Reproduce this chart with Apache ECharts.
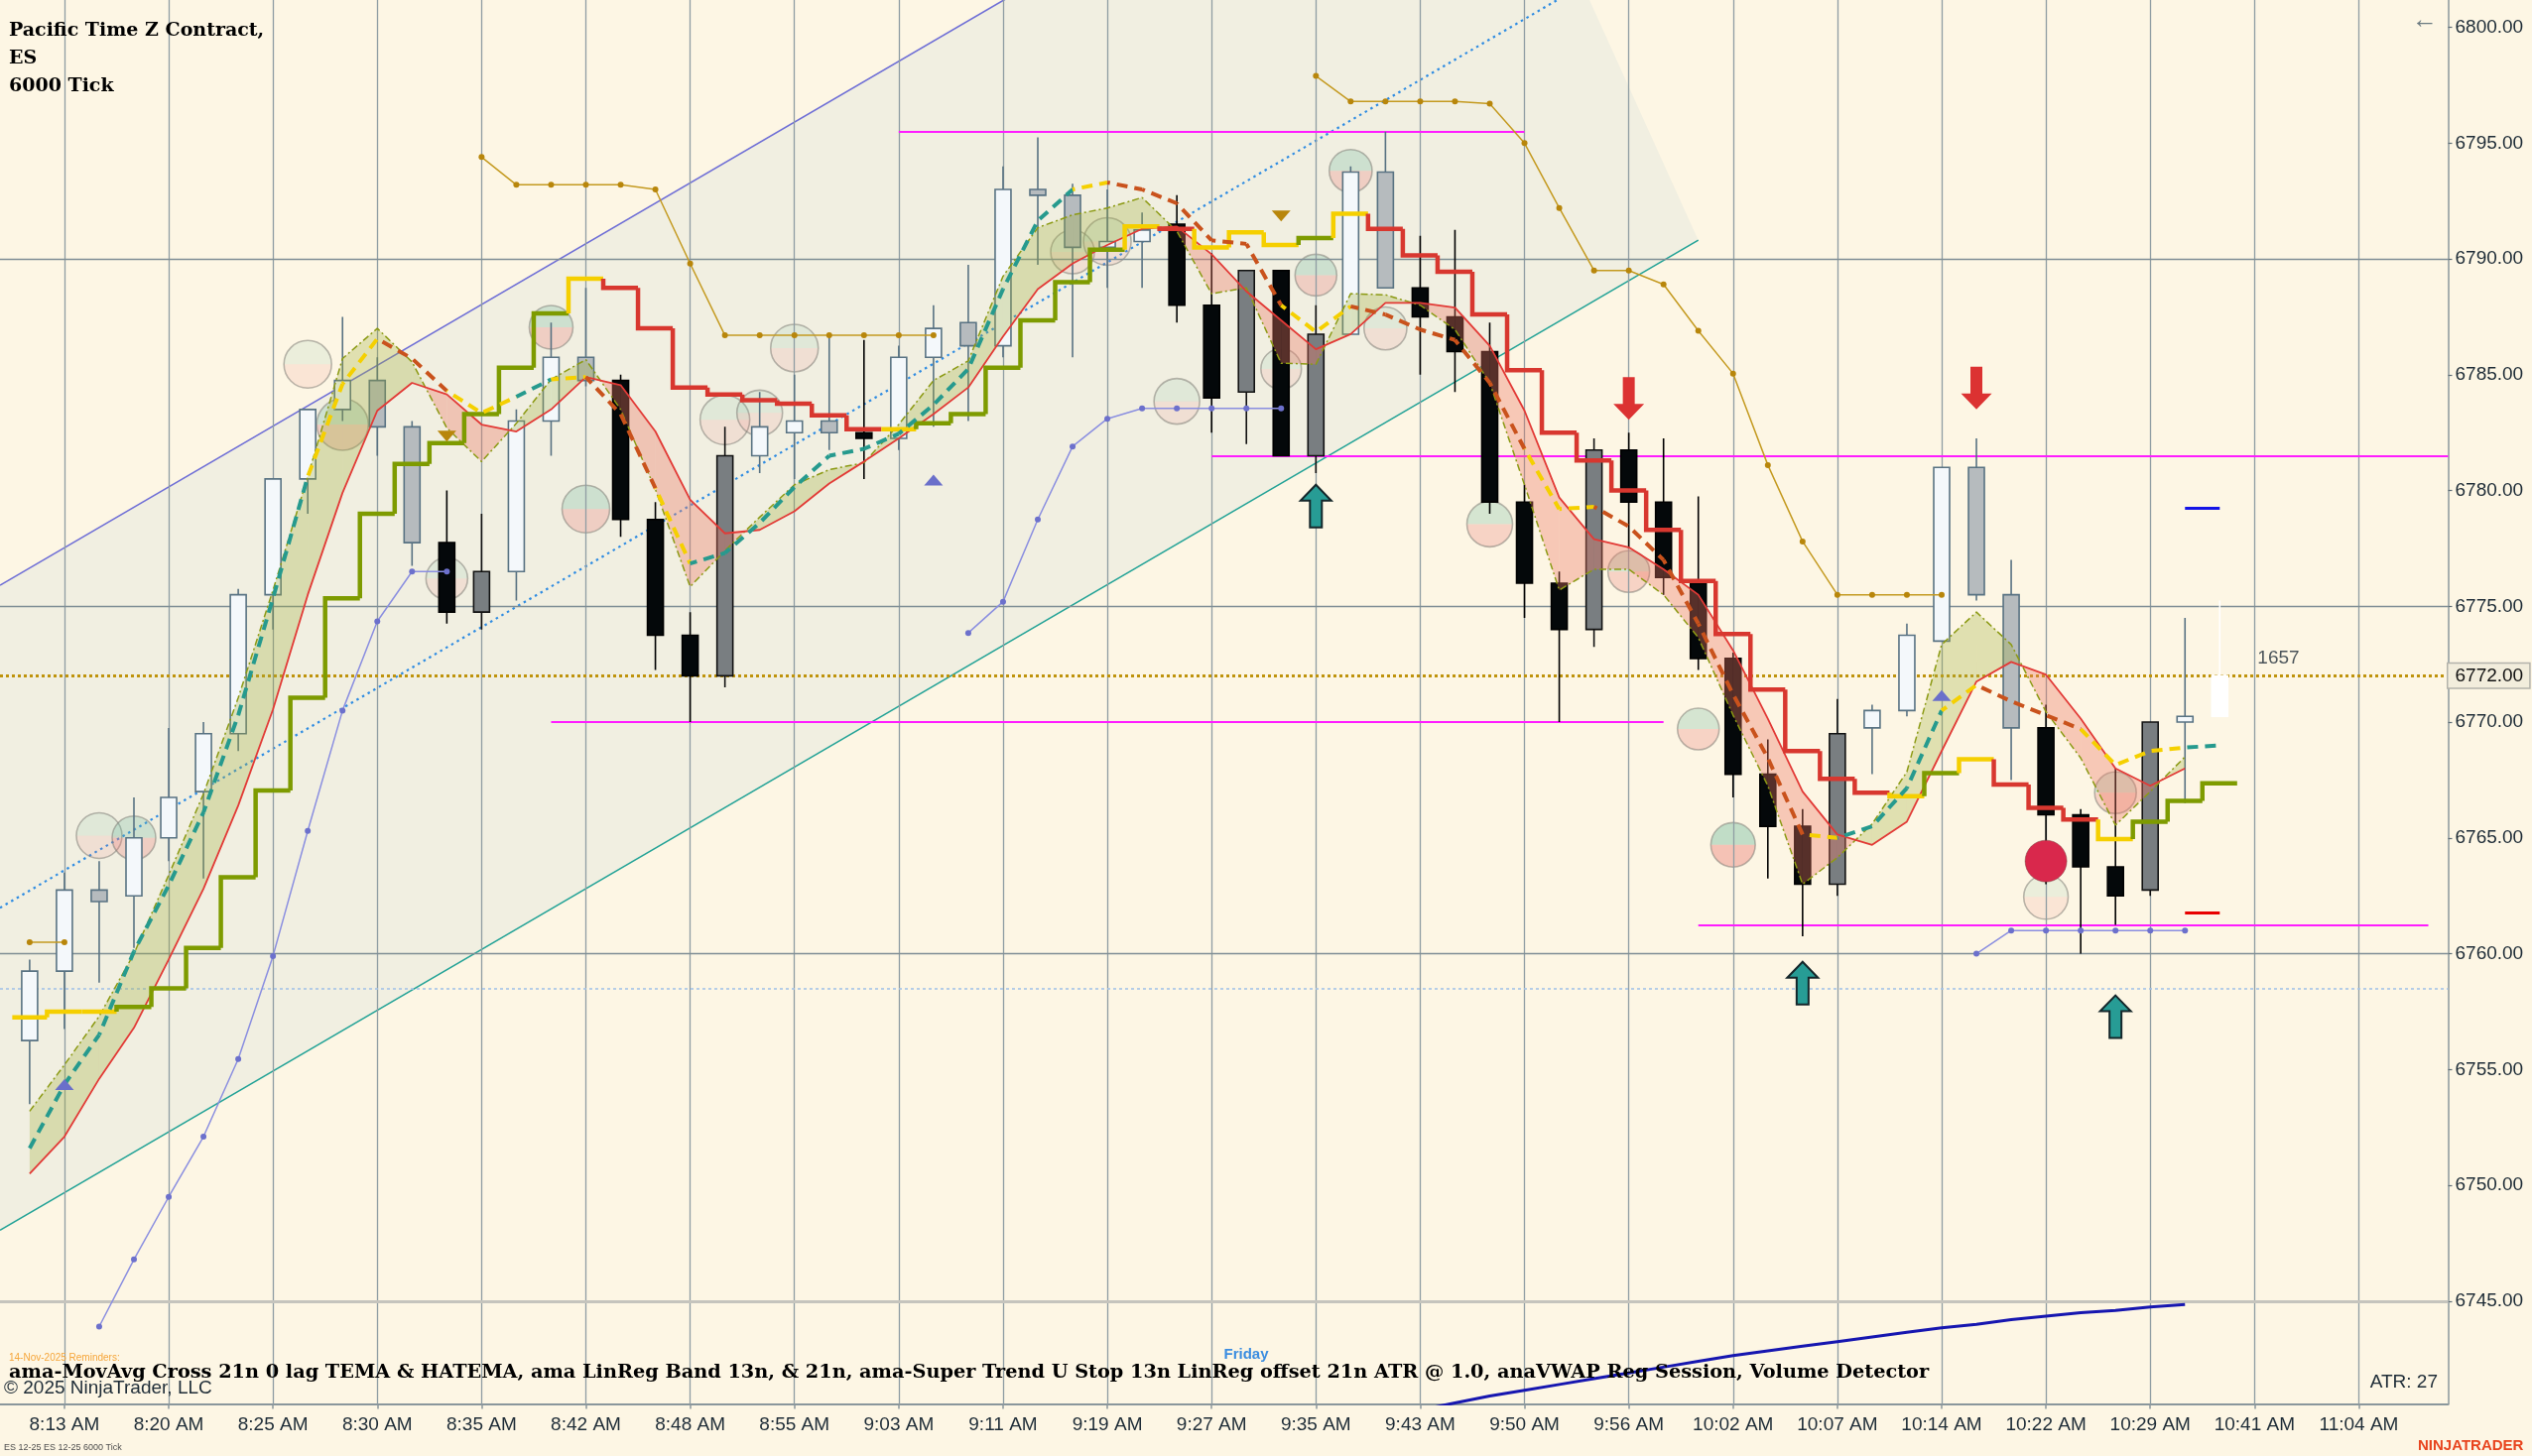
<!DOCTYPE html>
<html>
<head>
<meta charset="utf-8">
<title>ES 12-25 6000 Tick</title>
<script src="https://cdn.jsdelivr.net/npm/echarts@6.0.0/dist/echarts.min.js"></script>
<style>
html,body{margin:0;padding:0;background:#fdf6e4;overflow:hidden;}
#chart{width:2552px;height:1468px;}
</style>
</head>
<body>
<div id="chart"></div>
<script>
// ================= DATA =================
const timeLabels = ['8:13 AM','8:20 AM','8:25 AM','8:30 AM','8:35 AM','8:42 AM','8:48 AM','8:55 AM','9:03 AM','9:11 AM','9:19 AM','9:27 AM','9:35 AM','9:43 AM','9:50 AM','9:56 AM','10:02 AM','10:07 AM','10:14 AM','10:22 AM','10:29 AM','10:41 AM','11:04 AM'];
const timeTickBars = [1,4,7,10,13,16,19,22,25,28,31,34,37,40,43,46,49,52,55,58,61,64,67];
const priceTicks = [6745,6750,6755,6760,6765,6770,6775,6780,6785,6790,6795,6800];
const priceGridLines = [6760,6775,6790];
const priceGridHeavy = [6745];

const openP = [6756.25,6759.25,6762.75,6762.5,6765,6767,6769.5,6775.5,6780.5,6783.5,
  6784.75,6782.75,6777.75,6776.5,6776.5,6783,6785.75,6784.75,6778.75,6773.75,
  6772,6781.5,6782.5,6783,6782.5,6782.25,6785.75,6787.25,6786.25,6793,
  6792.75,6790.5,6790.75,6791.5,6788,6784.25,6789.5,6781.5,6786.75,6793.75,
  6788.75,6787.5,6786,6779.5,6776,6774,6781.75,6779.5,6776,6772.75,
  6767.75,6765.5,6763,6769.75,6770.5,6773.5,6781,6775.5,6769.75,6766,
  6763.75,6762.75,6770,6770.25];
const highP = [6759.75,6763.5,6764,6766.75,6769.75,6770,6775.75,6780.5,6783.5,6787.5,
  6785.75,6783,6780,6779,6783.5,6787.25,6788.75,6785,6779.5,6774.75,
  6782.75,6784.25,6785,6786.75,6786.5,6786.25,6788,6789.75,6794,6795.25,
  6793.25,6793,6792,6792.75,6790.25,6789.5,6789.5,6788,6794,6795.5,
  6791,6791.25,6787.25,6780.25,6776.5,6782.25,6782.5,6782.25,6779.75,6773,
  6769.25,6766.25,6771,6770.75,6774.25,6781,6782.25,6777,6770.75,6766.25,
  6768,6770,6774.5,6775.25];
const lowP = [6753.5,6756.75,6758.75,6760.25,6764,6763.25,6768.75,6774,6779,6783,
  6781.5,6776.75,6774.25,6774,6775.25,6781.5,6784.5,6778,6772.25,6770,
  6771.5,6780.75,6780.5,6781.75,6780.5,6781.75,6782.75,6783,6785.75,6789.75,
  6785.75,6788.75,6788.75,6787.25,6782.5,6782,6781.5,6780.75,6786.75,6788.75,
  6785,6784.25,6779,6774.5,6770,6773.25,6777.5,6775.5,6772.25,6766.75,
  6763.25,6760.75,6762.5,6767.75,6770.25,6773.5,6775.25,6767.5,6763,6760,
  6761.25,6762.5,6766.5,6770.25];
const closeP = [6759.25,6762.75,6762.25,6765,6766.75,6769.5,6775.5,6780.5,6783.5,6784.75,
  6782.75,6777.75,6774.75,6774.75,6783,6785.75,6784.75,6778.75,6773.75,6772,
  6781.5,6782.75,6783,6782.5,6782.25,6785.75,6787,6786.25,6793,6792.75,
  6790.5,6790.75,6791.25,6788,6784,6789.5,6781.5,6786.75,6793.75,6788.75,
  6787.5,6786,6779.5,6776,6774,6781.75,6779.5,6776.25,6772.75,6767.75,
  6765.5,6763,6769.5,6770.5,6773.75,6781,6775.5,6769.75,6766,6763.75,
  6762.5,6770,6770.25,6772];
// bar paint class: W up, L light-gray, D dark-gray, B down, N forming bar
const barClass = ('WWLWWWWWWW' + 'LLBDWWLBBB' + 'DWWLBWWLWL' + 'LWWBBDBDWL' + 'BBBBBDBBBB' + 'BBDWWWLLBB' + 'BDWN').split('');

// Super Trend U stop (step line) and its state: g bull, r bear, y neutral
const stopVals = [6757.25,6757.5,6757.5,6757.7,6758.5,6760.25,6763.3,6767.05,6771.05,6775.35,
  6779,6781.15,6782.05,6783.3,6785.3,6787.65,6789.15,6788.75,6787,6784.45,
  6784.15,6783.9,6783.75,6783.25,6782.65,6782.65,6782.9,6783.3,6785.3,6787.35,
  6789,6790.4,6791.4,6791.3,6790.5,6791.15,6790.6,6790.9,6791.95,6791.3,
  6790.15,6789.45,6787.6,6785.2,6782.5,6781.3,6780,6778.3,6776.1,6773.8,
  6771.4,6768.75,6767.55,6766.95,6766.8,6767.8,6768.4,6767.3,6766.3,6765.8,
  6764.95,6765.7,6766.6,6767.36];
const stopState = ('yyy' + 'ggggggggggggg' + 'y' + 'rrrrrrrr' + 'y' + 'gggggg' + 'y' + 'r' + 'yyy' + 'g' + 'y' + 'rrrrrrrrrrrrrrr' + 'y' + 'g' + 'y' + 'rrr' + 'y' + 'ggg').split('');

// TEMA (dashed) and its slope state: t rising, b falling, y flat
const temaVals = [6751.6,6754.35,6756.5,6760.1,6762.95,6766.1,6770.3,6775.35,6780.6,6784.6,
  6786.55,6785.7,6784.3,6783.35,6784.05,6784.8,6784.9,6783.3,6780.1,6776.85,
  6777.3,6778.6,6780.15,6781.5,6781.8,6782.45,6783.7,6785.25,6788.7,6791.65,
  6793,6793.3,6793,6792.4,6790.8,6790.65,6788,6786.85,6787.95,6787.6,
  6786.95,6786.5,6784.65,6781.8,6779.2,6779.3,6778.45,6777,6774.25,6771.2,
  6768.45,6765.15,6765,6765.5,6767.15,6770.5,6771.6,6770.9,6770.3,6769.7,
  6768.15,6768.75,6768.9,6769];
const temaState = ('t' + 'tttttttt' + 'yy' + 'bb' + 'yy' + 't' + 'y' + 'bb' + 'y' + 'ttttttttttt' + 'y' + 'bbbbb' + 'yy' + 'bbbbb' + 'yy' + 'bbbbbb' + 'y' + 'ttt' + 'y' + 'bbb' + 'yyy' + 't').split('');

// LinReg band: fast (olive dash-dot) and slow (thin red)
const bandFast = [6753.2,6755.2,6757.3,6760,6763.4,6766.9,6771.05,6775.7,6780.6,6785.7,
  6787,6785.55,6782.7,6781.25,6782.9,6784.8,6785.65,6783.5,6780.05,6775.85,
  6777.4,6778.85,6780.25,6780.9,6781.2,6782.85,6784.75,6785.6,6789.25,6791.35,
  6791.9,6792.2,6792.65,6791.2,6788.5,6788.75,6785.5,6785.45,6788.5,6788.45,
  6788,6786.95,6784.65,6780.25,6775.7,6776.6,6776.6,6775.5,6773.65,6770.3,
  6767.25,6763,6764.15,6765.6,6767.85,6773.35,6774.75,6773.35,6770.45,6768.45,
  6765.55,6767,6768.5];
const bandSlow = [6750.5,6752.1,6754.6,6756.8,6759.75,6762.8,6766.4,6770.55,6775.5,6779.9,
  6783.45,6784.65,6784.15,6782.85,6782.55,6783.5,6784.9,6784.55,6782.55,6779.6,
  6778.15,6778.3,6779.1,6780.3,6781.25,6782.25,6783.3,6784.45,6786.65,6788.7,
  6789.8,6790.6,6791.3,6791.4,6790.2,6788.6,6787.35,6786.1,6786.75,6788.1,
  6788.1,6787.9,6786.25,6783.45,6779.7,6777.9,6777.55,6776.6,6775.5,6773.1,
  6770.15,6767,6765.15,6764.7,6765.7,6768.75,6771.75,6772.6,6772.05,6770.15,
  6768,6767.25,6768];

// dotted-marker level lines (null = no value)
const goldLevel = [6760.5,6760.5,null,null,null,null,null,null,null,null,
  null,null,null,6794.4,6793.2,6793.2,6793.2,6793.2,6793,6789.8,
  6786.7,6786.7,6786.7,6786.7,6786.7,6786.7,6786.7,null,null,null,
  null,null,null,null,null,null,null,6797.9,6796.8,6796.8,
  6796.8,6796.8,6796.7,6795,6792.2,6789.5,6789.5,6788.9,6786.9,6785.05,
  6781.1,6777.8,6775.5,6775.5,6775.5,6775.5,null,null,null,null,
  null,null,null,null];
const lavLevel = [null,null,6743.9,6746.8,6749.5,6752.1,6755.45,6759.9,6765.3,6770.5,
  6774.35,6776.5,6776.5,null,null,null,null,null,null,null,
  null,null,null,null,null,null,null,6773.85,6775.2,6778.75,
  6781.9,6783.1,6783.55,6783.55,6783.55,6783.55,6783.55,null,null,null,
  null,null,null,null,null,null,null,null,null,null,
  null,null,null,null,null,null,6760,6761,6761,6761,
  6761,6761,6761,null];
const vwapLine = [null,null,null,null,null,null,null,null,null,null,
  null,null,null,null,null,null,null,null,null,null,
  null,null,null,null,null,null,null,null,null,null,
  null,null,null,null,null,null,null,null,null,null,
  6740.3,6740.6,6740.9,6741.15,6741.4,6741.65,6741.9,6742.15,6742.4,6742.65,
  6742.85,6743.05,6743.25,6743.45,6743.65,6743.85,6744,6744.2,6744.35,6744.5,
  6744.6,6744.75,6744.85,null];

// linear regression channel endpoints
const chanX = [-0.853, 48];
const chanUpper = [6775.91, 6818.66];
const chanMid = [6761.98, 6804.73];
const chanLower = [6748.06, 6790.81];
const chanCut = [41.35, 6812.84];

// volume detector bubbles
const volBar = [2,3,8,9,12,15,16,20,21,22,30,31,33,36,37,38,39,42,46,48,49,58,60];
const volPrice = [6765.1,6765,6785.45,6782.85,6776.2,6787.05,6779.2,6783.05,6783.35,6786.15,6790.3,6790.75,6783.85,6785.25,6789.3,6793.8,6787,6778.55,6776.5,6769.7,6764.7,6762.45,6766.95];
const volSize = [1.15,1.1,1.2,1.3,1.05,1.1,1.2,1.25,1.15,1.2,1.1,1.2,1.15,1.02,1.05,1.08,1.08,1.15,1.05,1.05,1.12,1.12,1.05];
const volTone = 'fmfmfmmfffffffmmfmmmsfm'.split('');
const bigVolBar = [58], bigVolPrice = [6764.0], bigVolSize = [1.05];

// signals
const upArrowBar = [37,51,60], upArrowPrice = [6780.25,6759.65,6758.2];
const downArrowBar = [46,56], downArrowPrice = [6783.05,6783.5];
const upTriBar = [1,26,55], upTriPrice = [6754.35,6780.45,6771.15];
const downTriBar = [12,36], downTriPrice = [6782.35,6791.85];

// horizontal levels [fromBar, toBar, price]
const magentaLevels = [[25,43,6795.5],[34,69.57,6781.5],[15,47,6770],[48,69,6761.25]];
const lastPrice = 6772.00;
const stopPrice = 6767.36;
const vwapBandPrice = 6761.00;
const lowerBandDotted = 6758.5;
const blueMark = [62,63,6779.25];
const redMark = [62,63,6761.75];
const volumeLabel = [64, 6772.75, '1657'];

// ================= CHART =================
const X_MIN = -0.853, X_MAX = 69.57, Y_MIN = 6740.56, Y_MAX = 6801.18;
const SANS = '"Liberation Sans", Arial, sans-serif';
const SERIF = '"DejaVu Serif", serif';
const chart = echarts.init(document.getElementById('chart'), null, {width:2552, height:1468});

const stopPalette = {g:'#7e9b00', r:'#d8372f', y:'#f5cf00'};
const temaPalette = {t:'#269a8e', b:'#c9521c', y:'#f5d000'};
const GREEN_FILL = 'rgba(160,175,60,0.31)';
const RED_FILL = 'rgba(235,120,100,0.36)';

const toPairs = arr => arr.map((v,i)=>[i, v == null ? null : v]);

function candleRender(params, api){
  const i = params.dataIndex;
  const o = openP[i], h = highP[i], l = lowP[i], c = closeP[i];
  const cls = barClass[i];
  const pO = api.coord([i,o]), pC = api.coord([i,c]), pH = api.coord([i,h]), pL = api.coord([i,l]);
  const top = Math.min(pO[1],pC[1]), bot = Math.max(pO[1],pC[1]);
  const w = 16;
  let fill, stroke, wick;
  if (cls === 'W') { fill='#f4f8fb'; stroke='#587282'; wick='#587282'; }
  else if (cls === 'L') { fill='#b6bbbe'; stroke='#587282'; wick='#587282'; }
  else if (cls === 'D') { fill='#797e81'; stroke='#111'; wick='#111'; }
  else if (cls === 'B') { fill='#04080a'; stroke='#000'; wick='#000'; }
  else { fill='#ffffff'; stroke='#ffffff'; wick='#ffffff'; }
  return {type:'group', children:[
    {type:'line', shape:{x1:pH[0], y1:pH[1], x2:pL[0], y2:pL[1]}, style:{stroke:wick, lineWidth:1.6}},
    {type:'rect', shape:{x:pO[0]-w/2, y:top, width:w, height:Math.max(bot-top,2)}, style:{fill:fill, stroke:stroke, lineWidth:1.6}}
  ]};
}

function bandRender(params, api){
  const i = params.dataIndex;
  const a0 = bandFast[i], a1 = bandFast[i+1], b0 = bandSlow[i], b1 = bandSlow[i+1];
  const d0 = a0-b0, d1 = a1-b1;
  const P = (x,y)=>api.coord([x,y]);
  const col = d => d >= 0 ? GREEN_FILL : RED_FILL;
  if (d0*d1 >= 0) {
    return {type:'polygon', shape:{points:[P(i,a0),P(i+1,a1),P(i+1,b1),P(i,b0)]}, style:{fill:col(d0+d1), stroke:'none'}};
  }
  const t = d0/(d0-d1);
  const xc = i+t, yc = a0 + t*(a1-a0);
  return {type:'group', children:[
    {type:'polygon', shape:{points:[P(i,a0),P(xc,yc),P(i,b0)]}, style:{fill:col(d0), stroke:'none'}},
    {type:'polygon', shape:{points:[P(xc,yc),P(i+1,a1),P(i+1,b1)]}, style:{fill:col(d1), stroke:'none'}}
  ]};
}

function stopRender(params, api){
  const i = params.dataIndex;
  const v = stopVals[i];
  const prev = i > 0 ? stopVals[i-1] : v;
  const pts = [api.coord([i-0.5, prev]), api.coord([i-0.5, v]), api.coord([i+0.5, v])];
  return {type:'polyline', shape:{points:pts}, style:{stroke:stopPalette[stopState[i]], lineWidth:4.5, fill:'none', lineJoin:'miter', lineCap:'butt'}};
}

function temaRender(params, api){
  const i = params.dataIndex + 1;
  let cum = 0;
  for (let j = 1; j < i; j++) {
    const p = api.coord([j-1, temaVals[j-1]]), q = api.coord([j, temaVals[j]]);
    cum += Math.hypot(q[0]-p[0], q[1]-p[1]);
  }
  const a = api.coord([i-1, temaVals[i-1]]), b = api.coord([i, temaVals[i]]);
  return {type:'line', shape:{x1:a[0], y1:a[1], x2:b[0], y2:b[1]},
    style:{stroke:temaPalette[temaState[i]], lineWidth:4, lineDash:[11,7], lineDashOffset:cum, lineCap:'butt'}};
}

function bubbleRender(params, api){
  const i = params.dataIndex;
  const c = api.coord([volBar[i], volPrice[i]]);
  const r = volSize[i]*20;
  const tone = volTone[i];
  const topA = tone === 'f' ? 0.12 : tone === 'm' ? 0.28 : 0.42;
  const botA = tone === 'f' ? 0.14 : tone === 'm' ? 0.30 : 0.45;
  return {type:'group', children:[
    {type:'sector', shape:{cx:c[0], cy:c[1], r0:0, r:r, startAngle:Math.PI, endAngle:Math.PI*2}, style:{fill:'rgba(110,185,160,'+topA+')'}},
    {type:'sector', shape:{cx:c[0], cy:c[1], r0:0, r:r, startAngle:0, endAngle:Math.PI}, style:{fill:'rgba(235,130,125,'+botA+')'}},
    {type:'circle', shape:{cx:c[0], cy:c[1], r:r}, style:{fill:'none', stroke:'rgba(130,128,120,0.55)', lineWidth:1.6}}
  ]};
}

function bigBubbleRender(params, api){
  const i = params.dataIndex;
  const c = api.coord([bigVolBar[i], bigVolPrice[i]]);
  const r = bigVolSize[i]*20;
  return {type:'circle', shape:{cx:c[0], cy:c[1], r:r}, style:{fill:'#d9284c', stroke:'rgba(120,60,60,0.5)', lineWidth:1}};
}

function arrowRender(up){
  return function(params, api){
    const i = params.dataIndex;
    const bar = up ? upArrowBar[i] : downArrowBar[i];
    const pr = up ? upArrowPrice[i] : downArrowPrice[i];
    const p = api.coord([bar, pr]);
    const s = up ? 1 : -1;
    const x = p[0], y = p[1];
    const hw = 15.5, sw = 6, hh = 16, L = 43;
    const pts = [[x,y],[x+hw,y+s*hh],[x+sw,y+s*hh],[x+sw,y+s*L],[x-sw,y+s*L],[x-sw,y+s*hh],[x-hw,y+s*hh]];
    return {type:'polygon', shape:{points:pts}, style: up ? {fill:'#279c95', stroke:'#14262a', lineWidth:2} : {fill:'#dc3232', stroke:'none'}};
  };
}

function channelRender(params, api){
  const pts = [
    api.coord([chanX[0], chanUpper[0]]), api.coord(chanCut),
    api.coord([chanX[1], chanLower[1]]), api.coord([chanX[0], chanLower[0]])
  ];
  return {type:'polygon', shape:{points:pts}, style:{fill:'#f1efe1', stroke:'none'}};
}

const noLabel = {show:false};
const segLine = (x1,x2,y,style) => [{coord:[x1,y], lineStyle:style}, {coord:[x2,y]}];

const tagLabel = (text, bg, fg, border) => ({
  show:true, position:'end', distance:0, formatter:text,
  backgroundColor:bg, color:fg, borderColor:border, borderWidth:border ? 1.5 : 0,
  padding:[2,6,2,7], fontSize:19, fontFamily:SANS, lineHeight:20
});

const option = {
  animation:false,
  backgroundColor:'#fdf6e4',
  textStyle:{fontFamily:SANS},
  grid:{left:0, right:84.5, top:0, bottom:52.5, containLabel:false, outerBoundsMode:'none'},
  xAxis:{
    type:'value', min:X_MIN, max:X_MAX,
    axisLine:{show:true, onZero:false, lineStyle:{color:'#8a979c', width:2}},
    axisTick:{show:true, customValues:timeTickBars, length:5, lineStyle:{color:'#8a979c', width:1.5}},
    axisLabel:{show:true, customValues:timeTickBars, margin:12, fontSize:19, color:'#1d2b36', fontFamily:SANS,
      formatter:(v)=>{ const k = timeTickBars.indexOf(Math.round(v)); return k >= 0 ? timeLabels[k] : ''; }},
    splitLine:{show:false}
  },
  yAxis:{
    type:'value', position:'right', min:Y_MIN, max:Y_MAX, scale:true,
    axisLine:{show:true, onZero:false, lineStyle:{color:'#8a979c', width:1.5}},
    axisTick:{show:true, customValues:priceTicks, length:4, lineStyle:{color:'#5f6f77', width:1.2}},
    axisLabel:{show:true, customValues:priceTicks, margin:7, fontSize:19, color:'#1d2b36', fontFamily:SANS,
      formatter:(v)=>Number(v).toFixed(2)},
    splitLine:{show:false}
  },
  graphic:[
    {type:'text', x:9, y:31, z:100, style:{text:'Pacific Time Z Contract,', font:'bold 19px '+SERIF, fill:'#000', textVerticalAlign:'middle'}},
    {type:'text', x:9, y:59, z:100, style:{text:'ES', font:'bold 19px '+SERIF, fill:'#000', textVerticalAlign:'middle'}},
    {type:'text', x:9, y:87, z:100, style:{text:'6000 Tick', font:'bold 19px '+SERIF, fill:'#000', textVerticalAlign:'middle'}},
    {type:'text', x:9, y:1369, z:100, style:{text:'14-Nov-2025 Reminders:', font:'10px '+SANS, fill:'#f5a53a', textVerticalAlign:'middle'}},
    {type:'text', x:1256, y:1366, z:100, style:{text:'Friday', font:'bold 15px '+SANS, fill:'#3b8de0', textAlign:'center', textVerticalAlign:'middle'}},
    {type:'text', x:9, y:1383.5, z:100, style:{text:'ama-MovAvg Cross 21n 0 lag TEMA & HATEMA, ama LinReg Band 13n, & 21n, ama-Super Trend U Stop 13n LinReg offset 21n ATR @ 1.0, anaVWAP Reg Session, Volume Detector', font:'bold 19.3px '+SERIF, fill:'#000', textVerticalAlign:'middle'}},
    {type:'text', x:4, y:1400, z:100, style:{text:'\u00a9 2025 NinjaTrader, LLC', font:'19px '+SANS, fill:'#1d2b36', textVerticalAlign:'middle'}},
    {type:'text', x:2457, y:1394, z:100, style:{text:'ATR: 27', font:'19px '+SANS, fill:'#1d2b36', textAlign:'right', textVerticalAlign:'middle'}},
    {type:'text', x:4, y:1460, z:100, style:{text:'ES 12-25 ES 12-25 6000 Tick', font:'9px '+SANS, fill:'#4d4d4d', textVerticalAlign:'middle'}},
    {type:'text', x:2437, y:1458, z:100, style:{text:'NINJATRADER', font:'bold 15px '+SANS, fill:'#e8441e', textVerticalAlign:'middle'}},
    {type:'text', x:2444, y:21, z:100, style:{text:'\u2190', font:'26px '+SANS, fill:'#6c7b82', textAlign:'center', textVerticalAlign:'middle'}}
  ],
  series:[
    {type:'custom', name:'channelFill', z:1, clip:true, silent:true, data:[[chanX[0], chanLower[0]]], encode:{x:0,y:1}, renderItem:channelRender},
    {type:'line', name:'grid', z:2, data:[], silent:true,
      markLine:{silent:true, symbol:['none','none'], label:noLabel, animation:false,
        data:[
          ...timeTickBars.map(b=>({xAxis:b, lineStyle:{color:'#8f9da3', width:1.3, type:'solid'}})),
          ...priceGridLines.map(p=>({yAxis:p, lineStyle:{color:'#7f8e95', width:1.3, type:'solid'}})),
          ...priceGridHeavy.map(p=>({yAxis:p, lineStyle:{color:'#c5c4bd', width:3, type:'solid'}}))
        ]}},
    {type:'line', name:'levels', z:3, data:[], silent:true,
      markLine:{silent:true, symbol:['none','none'], label:noLabel, animation:false,
        data:[
          ...magentaLevels.map(m=>segLine(m[0], m[1], m[2], {color:'#ff1cff', width:2.2, type:'solid'})),
          {yAxis:lowerBandDotted, lineStyle:{color:'#a3c2e8', width:1.6, type:[3,3]}},
          {yAxis:lastPrice, lineStyle:{color:'#bf930c', width:3, type:[3,3]}, label:tagLabel(lastPrice.toFixed(2), '#f2eddc', '#111', '#b3b2aa')},
          {yAxis:stopPrice, lineStyle:{opacity:0}, label:tagLabel(stopPrice.toFixed(2), '#7f9b0a', '#111', null)},
          {yAxis:vwapBandPrice, lineStyle:{opacity:0}, label:tagLabel(vwapBandPrice.toFixed(2), '#6f72c6', '#ffffff', null)},
          segLine(blueMark[0], blueMark[1], blueMark[2], {color:'#1414e6', width:3, type:'solid'}),
          segLine(redMark[0], redMark[1], redMark[2], {color:'#e80000', width:3, type:'solid'})
        ]}},
    {type:'line', name:'chanUpper', z:3, symbol:'none', silent:true, data:[[chanX[0],chanUpper[0]],[chanX[1],chanUpper[1]]], lineStyle:{color:'#6e6ed6', width:1.6}},
    {type:'line', name:'chanMid', z:3, symbol:'none', silent:true, data:[[chanX[0],chanMid[0]],[chanX[1],chanMid[1]]], lineStyle:{color:'#2f8ce2', width:2.2, type:[2.5,4]}},
    {type:'line', name:'chanLower', z:3, symbol:'none', silent:true, data:[[chanX[0],chanLower[0]],[chanX[1],chanLower[1]]], lineStyle:{color:'#22a296', width:1.6}},
    {type:'custom', name:'volume', z:4, clip:true, silent:true, data:volBar.map((b,i)=>[b, volPrice[i]]), encode:{x:0,y:1}, renderItem:bubbleRender},
    {type:'custom', name:'bars', z:5, clip:true, silent:true, data:openP.map((o,i)=>[i, o, highP[i], lowP[i], closeP[i]]), encode:{x:0,y:[1,2,3,4]}, renderItem:candleRender},
    {type:'custom', name:'bigVolume', z:6, clip:true, silent:true, data:bigVolBar.map((b,i)=>[b, bigVolPrice[i]]), encode:{x:0,y:1}, renderItem:bigBubbleRender},
    {type:'custom', name:'band', z:6, clip:true, silent:true, data:bandFast.slice(0,-1).map((v,i)=>[i, v]), encode:{x:0,y:1}, renderItem:bandRender},
    {type:'line', name:'bandFast', z:7, symbol:'none', silent:true, data:toPairs(bandFast), lineStyle:{color:'#8c9a14', width:1.5, type:[7,3,2,3]}},
    {type:'line', name:'bandSlow', z:7, symbol:'none', silent:true, data:toPairs(bandSlow), lineStyle:{color:'#e23a36', width:1.8}},
    {type:'line', name:'gold', z:7, silent:true, symbol:'circle', symbolSize:6, data:toPairs(goldLevel), connectNulls:false,
      lineStyle:{color:'#c49a20', width:1.5}, itemStyle:{color:'#b8860b'}},
    {type:'line', name:'lav', z:7, silent:true, symbol:'circle', symbolSize:6, data:toPairs(lavLevel), connectNulls:false,
      lineStyle:{color:'#8a8ee0', width:1.5}, itemStyle:{color:'#6c70cc'}},
    {type:'line', name:'vwap', z:7, silent:true, symbol:'none', data:toPairs(vwapLine), connectNulls:false,
      lineStyle:{color:'#1616b0', width:3}},
    {type:'custom', name:'stop', z:8, clip:true, silent:true, data:stopVals.map((v,i)=>[i,v]), encode:{x:0,y:1}, renderItem:stopRender},
    {type:'custom', name:'tema', z:9, clip:true, silent:true, data:temaVals.slice(1).map((v,i)=>[i+1,v]), encode:{x:0,y:1}, renderItem:temaRender},
    {type:'custom', name:'upArrows', z:10, clip:true, silent:true, data:upArrowBar.map((b,i)=>[b, upArrowPrice[i]]), encode:{x:0,y:1}, renderItem:arrowRender(true)},
    {type:'custom', name:'downArrows', z:10, clip:true, silent:true, data:downArrowBar.map((b,i)=>[b, downArrowPrice[i]]), encode:{x:0,y:1}, renderItem:arrowRender(false)},
    {type:'scatter', name:'upTri', z:10, silent:true, symbol:'triangle', symbolSize:[19,11], data:upTriBar.map((b,i)=>[b, upTriPrice[i]]), itemStyle:{color:'#6a6fca', opacity:1}},
    {type:'scatter', name:'downTri', z:10, silent:true, symbol:'triangle', symbolRotate:180, symbolSize:[19,11], data:downTriBar.map((b,i)=>[b, downTriPrice[i]]), itemStyle:{color:'#b8860b', opacity:1}},
    {type:'scatter', name:'volLabel', z:10, silent:true, symbolSize:0, data:[[volumeLabel[0], volumeLabel[1]]],
      label:{show:true, position:'right', distance:3, formatter:volumeLabel[2], fontSize:19, color:'#1d2b36', fontFamily:SANS}}
  ]
};
chart.setOption(option);
</script>
</body>
</html>
